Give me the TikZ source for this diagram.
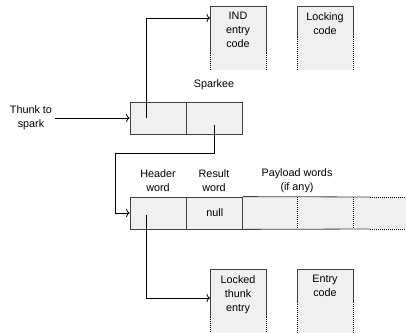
\documentclass[tikz,border=0pt]{standalone}
\usepackage{fontspec}
\setmainfont{Liberation Sans}
\usetikzlibrary{positioning, arrows.meta}
\definecolor{cellfill}{HTML}{F0F0F0}
\definecolor{edgegray}{HTML}{404040}

\begin{document}
\begin{tikzpicture}[x=1pt, y=-1pt, >={To[length=3.5pt, width=8pt]},
    font=\fontsize{10.8}{14}\selectfont,
    lbl/.style={align=center, inner sep=0pt},
    cell/.style={draw=edgegray, fill=cellfill, line width=0.8pt, minimum width=56pt, minimum height=32pt, inner sep=0pt},
    faint/.style={black, line width=0.6pt, dash pattern=on 1pt off 1pt},
    link/.style={->, black, line width=0.8pt}]
    \useasboundingbox (0,0) rectangle (406,332);

    % code boxes
    \foreach \nm/\xl/\yt/\ys/\txt in {ind/210/6/53/{IND\\entry\\code}, lck/297/6/37/{Locking\\code}, lte/210/269/317/{Locked\\thunk\\entry}, ent/297/269/302/{Entry\\code}} {
        \fill[cellfill] (\xl,\yt) rectangle ({\xl+56},{\yt+64});
        \draw[edgegray, line width=0.8pt] (\xl,\ys) -- (\xl,\yt) -- ({\xl+56},\yt) -- ({\xl+56},\ys);
        \draw[faint] (\xl,\ys) -- (\xl,{\yt+64});
        \draw[faint] ({\xl+56},\ys) -- ({\xl+56},{\yt+64});
        \node[lbl, anchor=north] (\nm) at ({\xl+28},{\yt+6}) {\txt};
    }
    \coordinate (indin) at (210,18);
    \coordinate (ltein) at (210,298);

    % sparkee
    \node[lbl] (sparkee) at (214,85) {Sparkee};
    \node[cell] (spa) at (158,118) {};
    \node[cell, right=0pt of spa] (spb) {};
    \node[lbl] (thunk) at (31,118) {Thunk to\\spark};
    \draw[link] ([xshift=3pt]thunk.east) -- (spa.west);

    % closure
    \fill[cellfill] (242,197) rectangle (406,229);
    \node[cell] (hdr) at (158,213) {};
    \node[cell, right=0pt of hdr] (res) {null};
    \draw[edgegray, line width=0.8pt] (res.north east) -- (370,197) (res.south east) -- (370,229);
    \draw[faint] (370,197) -- (406,197) (370,229) -- (406,229);
    \foreach \x in {297.5,353.5}
        \draw[faint] (\x,197) -- (\x,229);
    \node[lbl] (hdrlbl) at (158,181) {Header\\word};
    \node[lbl] (reslbl) at (214,181) {Result\\word};
    \node[lbl] (paylbl) at (297,181) {Payload words\\(if any)};

    % pointers
    \coordinate (tailA) at (146,118);
    \draw[link] (tailA) |- (indin);
    \coordinate (tailB) at (214,125);
    \coordinate (bendB) at (115,153);
    \draw[link] (tailB) |- (bendB) |- (hdr.west);
    \coordinate (tailC) at (146,215);
    \draw[link] (tailC) |- (ltein);
\end{tikzpicture}
\end{document}
